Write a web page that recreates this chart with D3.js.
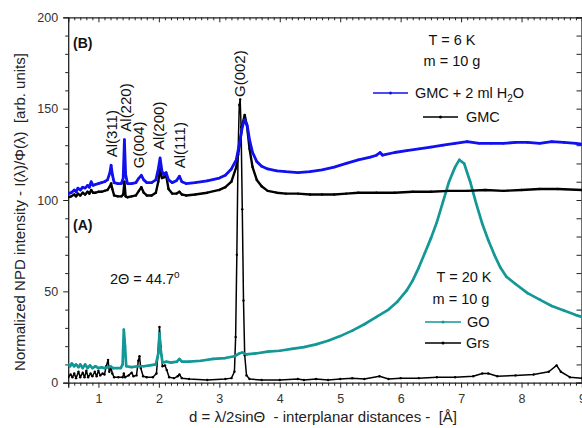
<!DOCTYPE html>
<html><head><meta charset="utf-8">
<script src="https://cdn.jsdelivr.net/npm/d3@7"></script>
<style>
html,body{margin:0;padding:0;background:#fff;}
svg{display:block;font-family:Arial,"Liberation Sans",sans-serif;}
</style></head>
<body><svg id="c" width="582" height="428"></svg>
<script>
// ---- data: [d (Å), intensity] ----
const gmcH2O = [
[0.50,103.5],[0.55,104],[0.60,105.5],[0.63,104.5],[0.66,106.5],[0.70,105.5],[0.74,107],[0.78,106.5],
[0.82,108],[0.85,107],[0.88,110],[0.91,108],[0.95,108.5],[1.00,109],[1.05,109.5],[1.10,110],[1.15,111],
[1.19,115],[1.21,119],[1.23,114],[1.26,109.5],[1.32,109],[1.38,109],[1.41,112],[1.43,133],[1.45,114],
[1.48,109],[1.55,109],[1.62,109.5],[1.67,112],[1.71,113.5],[1.75,111],[1.80,109.5],[1.88,109.5],[1.95,111],
[1.99,117],[2.02,123],[2.05,116],[2.08,114],[2.12,115],[2.16,111],[2.22,109.5],[2.29,110.5],[2.34,113],
[2.38,110],[2.45,109],[2.60,109.5],[2.80,110.5],[3.00,112],[3.10,113.5],[3.20,117],[3.28,122],[3.34,132],
[3.38,140],[3.42,144],[3.46,141],[3.50,133],[3.55,126],[3.62,121],[3.70,118.5],[3.80,117],[3.95,116],
[4.10,115.5],[4.30,115],[4.50,115.5],[4.70,116.5],[4.90,118],[5.10,120],[5.30,122],[5.50,123.5],[5.60,124.5],
[5.66,126],[5.70,124.5],[5.90,126],[6.10,127],[6.30,128],[6.50,129],[6.70,130],[6.90,131],[7.10,132],
[7.30,131],[7.50,131],[7.70,131],[7.90,131.5],[8.10,131.5],[8.30,131],[8.50,132],[8.70,131.5],[8.90,131],[9.00,130.5]
];
const gmc = [
[0.50,101.5],[0.55,102],[0.60,103],[0.63,102],[0.66,103.5],[0.70,102.5],[0.74,104],[0.78,103],[0.82,104.5],
[0.85,103.5],[0.88,105.5],[0.91,104],[0.95,104],[1.00,104.5],[1.05,104.5],[1.10,105],[1.15,105.5],[1.19,107.5],
[1.21,109],[1.23,106],[1.26,102.5],[1.32,102],[1.38,102],[1.41,103],[1.43,110],[1.45,102],[1.48,101.5],
[1.55,102],[1.62,102.5],[1.67,105],[1.71,107],[1.75,104],[1.80,102.5],[1.88,102.5],[1.95,104],[1.99,110],
[2.02,117],[2.05,112],[2.09,112.5],[2.12,113.5],[2.16,106],[2.22,103.5],[2.29,103.5],[2.34,104.5],[2.38,103],
[2.45,102.5],[2.60,103],[2.80,104],[3.00,105.5],[3.10,107],[3.20,110],[3.28,118],[3.34,131],[3.38,141],
[3.42,146.5],[3.46,140],[3.50,128],[3.55,118],[3.62,111],[3.70,107.5],[3.80,105],[3.95,104],[4.10,103.5],
[4.30,103.5],[4.50,103],[4.70,103],[4.90,103],[5.10,103.5],[5.30,104],[5.60,104],[5.90,104],[6.20,104.5],
[6.50,104.5],[6.80,105],[7.10,105],[7.40,105.5],[7.70,105],[8.00,105.5],[8.30,106],[8.60,106],[9.00,105.5]
];
const grs = [
[0.50,3],[0.54,4.5],[0.57,3],[0.60,5],[0.63,2.5],[0.67,6],[0.70,3],[0.74,5.5],[0.77,3],[0.80,6.5],[0.83,3],
[0.87,5],[0.90,3.5],[0.94,6],[0.97,3.5],[1.00,6.5],[1.03,4],[1.07,5],[1.10,4.5],[1.13,9],[1.16,12.5],[1.18,6],
[1.21,8],[1.23,5],[1.26,3],[1.33,3],[1.40,3],[1.42,5],[1.44,3],[1.50,4],[1.55,5.5],[1.58,3.5],[1.63,4],
[1.66,12],[1.68,14.5],[1.70,8],[1.74,3.5],[1.80,3],[1.90,3],[1.96,5],[1.99,18],[2.01,30.5],[2.03,20],[2.06,9],
[2.10,9.5],[2.13,7],[2.17,3],[2.25,2.5],[2.31,3.5],[2.34,4.5],[2.38,2.5],[2.50,2],[2.80,1.5],[3.10,2],[3.20,2.5],
[3.25,6],[3.27,25],[3.29,70],[3.31,125],[3.33,152],[3.345,155],[3.36,140],[3.38,95],[3.40,45],[3.42,15],
[3.45,4],[3.50,2],[3.70,1.5],[4.00,1.5],[4.30,2],[4.40,1.5],[4.60,2],[4.80,1.5],[5.00,2],[5.20,2.5],[5.40,2],
[5.65,3.5],[5.80,2],[6.00,2.5],[6.30,2.5],[6.60,3],[6.90,3],[7.20,3.5],[7.35,5],[7.45,5],[7.60,3.5],[7.90,4],
[8.20,4.5],[8.45,6],[8.58,9.5],[8.65,6],[8.80,3],[9.00,2.5]
];
const go = [
[0.50,10],[0.53,9],[0.56,10.5],[0.60,9],[0.63,10],[0.67,8.5],[0.70,10],[0.74,8],[0.78,10],[0.82,8],[0.86,9.5],
[0.90,8],[0.95,9],[1.00,8],[1.05,8.5],[1.10,8],[1.15,8.5],[1.20,9],[1.24,8],[1.30,8],[1.37,8],[1.40,10],
[1.42,29],[1.44,20],[1.46,9],[1.55,8.5],[1.65,9],[1.75,9],[1.85,9.5],[1.95,10],[1.99,16],[2.01,27],[2.03,18],
[2.06,11],[2.12,11.5],[2.20,11],[2.30,11.5],[2.34,13],[2.38,11.5],[2.50,11.5],[2.70,12],[2.90,13],[3.10,13.5],
[3.25,14.5],[3.33,16],[3.38,16.5],[3.45,15.5],[3.60,16],[3.80,17],[4.00,17.5],[4.20,18.5],[4.40,19.5],[4.60,21],
[4.80,23],[5.00,25.5],[5.20,28.5],[5.40,32],[5.60,36],[5.80,40],[5.95,44.5],[6.10,50.5],[6.20,56],[6.30,63],
[6.40,71],[6.50,79],[6.60,88],[6.70,99],[6.80,110],[6.90,118],[6.97,122],[7.05,120],[7.15,110],[7.25,98],
[7.35,87],[7.45,78],[7.55,70],[7.65,63],[7.75,58],[7.90,54],[8.10,49],[8.30,45.5],[8.50,42],[8.70,39.5],
[8.90,37],[9.00,36]
];
const xTicks = [1,2,3,4,5,6,7,8,9];
const yTicks = [0,50,100,150,200];
const peakLabels = [
  {t:"Al(311)", d:1.21, v:119},
  {t:"Al(220)", d:1.44, v:133},
  {t:"G(004)",  d:1.67, v:113},
  {t:"Al(200)", d:1.99, v:123},
  {t:"Al(111)", d:2.34, v:113},
  {t:"G(002)",  d:3.33, v:152}
];

const BLUE = "#1010f0", TEAL = "#139797";
const svg = d3.select("#c");
const x = d3.scaleLinear().domain([0.5, 9]).range([68.2, 582]);
const y = d3.scaleLinear().domain([0, 200]).range([382.7, 17.3]);
const L = 68.2, R = 582, T = 17.3, B = 382.7;

svg.append("defs").append("clipPath").attr("id","clip")
  .append("rect").attr("x",L).attr("y",T).attr("width",R-L).attr("height",B-T);

const minorX = d3.range(5, 91).map(i=>i/10).filter(v=>Math.abs(v-Math.round(v))>1e-6);
const minorY = d3.range(0, 201, 10).filter(v=>v%50!==0);

const g = svg.append("g");
g.append("g").attr("transform",`translate(0,${B})`)
  .call(d3.axisBottom(x).tickValues(xTicks).tickFormat(d3.format("d")).tickSize(5).tickPadding(6));
g.append("g").attr("transform",`translate(0,${B})`)
  .call(d3.axisBottom(x).tickValues(minorX).tickFormat("").tickSize(3)).select(".domain").remove();
g.append("g").attr("transform",`translate(${L},0)`)
  .call(d3.axisLeft(y).tickValues(yTicks).tickFormat(d3.format("d")).tickSize(5).tickPadding(5));
g.append("g").attr("transform",`translate(${L},0)`)
  .call(d3.axisLeft(y).tickValues(minorY).tickFormat("").tickSize(3)).select(".domain").remove();
g.append("g").attr("transform",`translate(0,${T})`)
  .call(d3.axisBottom(x).tickValues(xTicks).tickFormat("").tickSizeOuter(0).tickSize(5));
g.append("g").attr("transform",`translate(0,${T})`)
  .call(d3.axisBottom(x).tickValues(minorX).tickFormat("").tickSize(3)).select(".domain").remove();
g.append("g").attr("transform",`translate(${R-0.5},0)`)
  .call(d3.axisLeft(y).tickValues(d3.range(0,201,10)).tickFormat("").tickSizeOuter(0).tickSize(5));

svg.selectAll(".domain").attr("stroke","#222").attr("stroke-width",1.3);
svg.selectAll(".tick line").attr("stroke","#222").attr("stroke-width",1);
svg.selectAll(".tick text").attr("font-size",12.5).attr("fill","#333")
  .attr("font-family",'Arial,"Liberation Sans",sans-serif');

const line = d3.line().x(d=>x(d[0])).y(d=>y(d[1]));
const plot = svg.append("g").attr("clip-path","url(#clip)");
function drawSeries(data, color, w){
  plot.append("path").datum(data).attr("d",line).attr("fill","none")
    .attr("stroke",color).attr("stroke-width",w).attr("stroke-linejoin","round");
  plot.append("g").selectAll("circle").data(data).join("circle")
    .attr("cx",d=>x(d[0])).attr("cy",d=>y(d[1])).attr("r",1.2).attr("fill",color);
}
drawSeries(grs, "#000", 1.5);
drawSeries(go, TEAL, 2.7);
drawSeries(gmc, "#000", 2.4);
drawSeries(gmcH2O, BLUE, 2.8);

svg.append("g").selectAll("text").data(peakLabels).join("text")
  .attr("transform",d=>`translate(${x(d.d)+5.5},${y(d.v)-8}) rotate(-90)`)
  .attr("font-size",15).attr("fill","#111").text(d=>d.t);

function txt(s,xx,yy,opt={}){
  return svg.append("text").attr("x",xx).attr("y",yy).attr("font-size",opt.size||14.5)
    .attr("font-weight",opt.bold?"bold":"normal").attr("text-anchor",opt.anchor||"start")
    .attr("fill","#111").text(s);
}
txt("(B)",73,48,{bold:true,size:14});
txt("(A)",73,230,{bold:true,size:14});
txt("T = 6 K",452,45,{anchor:"middle"});
txt("m = 10 g",452,66,{anchor:"middle"});
txt("T = 20 K",464,282,{anchor:"middle"});
txt("m = 10 g",461,304,{anchor:"middle"});
const th = txt("2Θ = 44.7",110,284);
th.append("tspan").attr("dy",-6).attr("font-size",10).text("o");

function legend(x0,x1,yy,color,label,lx){
  svg.append("line").attr("x1",x0).attr("x2",x1).attr("y1",yy).attr("y2",yy)
    .attr("stroke",color).attr("stroke-width",1.5);
  svg.append("circle").attr("cx",(x0+x1)/2).attr("cy",yy).attr("r",1.5).attr("fill",color);
  return txt(label,lx,yy+5);
}
const l1 = legend(373,408,93,BLUE,"GMC + 2 ml H",415);
l1.append("tspan").attr("dy",4).attr("font-size",10).text("2");
l1.append("tspan").attr("dy",-4).text("O");
legend(423,458,117,"#000","GMC",466);
legend(425,461,322,TEAL,"GO",467);
legend(425,461,343,"#000","Grs",466);

svg.append("text").attr("transform","translate(25,212) rotate(-90)").attr("text-anchor","middle")
  .attr("font-size",15).attr("fill","#222").style("white-space","pre")
  .text("Normalized NPD intensity - I(λ)/Φ(λ)  [arb. units]");
svg.append("text").attr("x",323).attr("y",422).attr("text-anchor","middle")
  .attr("font-size",15).attr("fill","#222").style("white-space","pre")
  .text("d = λ/2sinΘ  - interplanar distances -  [Å]");
</script></body></html>
